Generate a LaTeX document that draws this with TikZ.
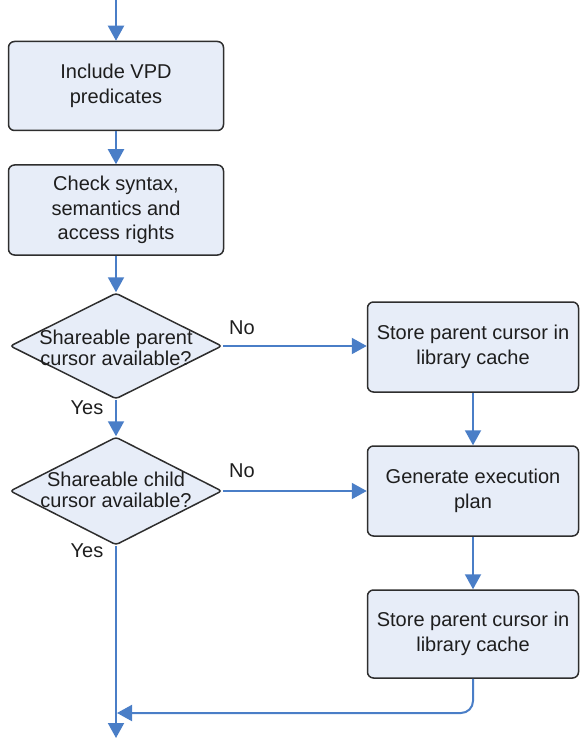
\documentclass[tikz,border=0pt]{standalone}
\usepackage{fontspec}
\setmainfont{Liberation Sans}
\usetikzlibrary{shapes.geometric,arrows.meta}
\definecolor{boxfill}{HTML}{E7EDF8}
\definecolor{linkblue}{HTML}{4A7EC7}
\definecolor{edgegray}{HTML}{2E2E2E}
\definecolor{txt}{HTML}{1E1E1E}
\tikzset{
  stepbox/.style={rectangle, rounded corners=6pt, draw=edgegray, line width=1.5pt, fill=boxfill,
    minimum width=215pt, minimum height=89pt, align=center, inner sep=0pt, text=txt,
    font=\fontsize{20}{24.5}\selectfont},
  decision/.style={diamond, rounded corners=3pt, draw=edgegray, line width=1.5pt, fill=boxfill,
    minimum width=212pt, minimum height=106pt, inner sep=0pt},
  dectext/.style={align=center, inner sep=0pt, text=txt, font=\fontsize{20}{20.5}\selectfont},
  lbl/.style={inner sep=0pt, text=txt, font=\fontsize{20}{22}\selectfont},
  flow/.style={draw=linkblue, line width=2pt, -{Triangle[length=15pt,width=16pt]}},
}
\begin{document}
\begin{tikzpicture}[x=1pt,y=-1pt]
\useasboundingbox (0,0) rectangle (579,738);
\coordinate (top) at (116,0);
\node[stepbox] (b1) at (116,86) {Include VPD\\predicates};
\node[stepbox, minimum height=90pt] (b2) at (116,210) {Check syntax,\\semantics and\\access rights};
\node[decision] (d1) at (116,346) {};
\node[dectext] (t1) at (116,348) {Shareable parent\\cursor available?};
\node[decision, minimum height=108pt] (d2) at (116,491) {};
\node[dectext] (t2) at (116,490) {Shareable child\\cursor available?};
\node[stepbox, minimum width=211pt, minimum height=90pt] (b3) at (473,347) {Store parent cursor in\\library cache};
\node[stepbox, minimum width=211pt, minimum height=90pt] (b4) at (473,491) {Generate execution\\plan};
\node[stepbox, minimum width=211pt, minimum height=88pt] (b5) at (473,634) {Store parent cursor in\\library cache};
\node[lbl] (no1) at (242,328) {No};
\node[lbl] (no2) at (242,471) {No};
\node[lbl] (yes1) at (87,408) {Yes};
\node[lbl] (yes2) at (87,551) {Yes};
\coordinate (join) at (116,713);
\coordinate (bottom) at (116,738);
\coordinate (turn) at (473,713);
\draw[flow] (top) -- (b1.north);
\draw[flow] (b1.south) -- (b2.north);
\draw[flow] (b2.south) -- (d1.north);
\draw[flow] (d1.south) -- (d2.north);
\draw[flow] (d1.east) -- (d1.east -| b3.west);
\draw[flow] (d2.east) -- (d2.east -| b4.west);
\draw[flow] (b3.south) -- (b4.north);
\draw[flow] (b4.south) -- (b5.north);
\draw[flow] (d2.south) -- (bottom);
\draw[flow, rounded corners=12pt] (b5.south) -- (turn) -- ([xshift=1pt]join);
\end{tikzpicture}
\end{document}
